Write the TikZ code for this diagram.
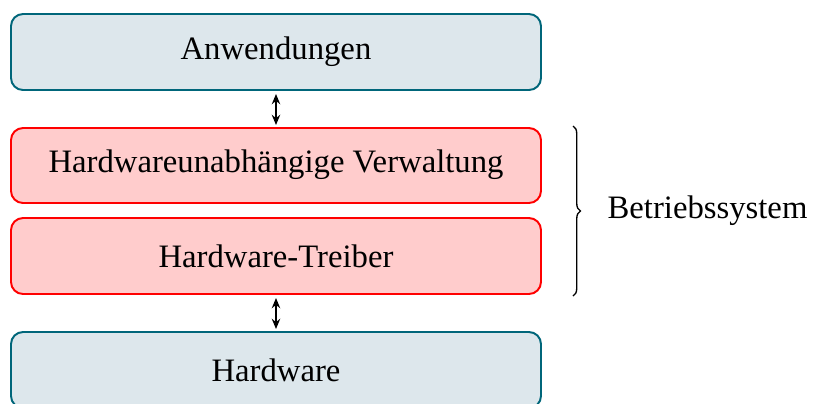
\documentclass[tikz,border=0pt]{standalone}
\usepackage{fontspec}
\setmainfont{Liberation Serif}
\usetikzlibrary{decorations.pathreplacing,arrows.meta}
\definecolor{tealb}{RGB}{0,102,122}
\definecolor{tealf}{RGB}{221,231,236}
\definecolor{redf}{RGB}{255,204,204}
\begin{document}
\begin{tikzpicture}[x=0.3333pt,y=-0.3333pt,
  layer/.style={rounded corners=4pt, line width=0.65pt},
  hw/.style={layer, draw=tealb, fill=tealf},
  os/.style={layer, draw=red, fill=redf},
  lbl/.style={font=\fontsize{10.9}{13}\selectfont},
  dbl/.style={{Stealth[length=3.4pt,width=2.8pt]}-{Stealth[length=3.4pt,width=2.8pt]}, line width=0.6pt}]
\useasboundingbox (0,0) rectangle (821,403);
\draw[hw] (11,14) rectangle (541,90);
\node[lbl] (a) at (276,52) {Anwendungen};
\draw[os] (11,128) rectangle (541,203);
\node[lbl] (v) at (276,165) {Hardwareunabhängige Verwaltung};
\draw[os] (11,218) rectangle (541,294);
\node[lbl] (t) at (276,256) {Hardware-Treiber};
\draw[hw] (11,332) rectangle (541,408);
\node[lbl] (h) at (276,370) {Hardware};
\coordinate (a1) at (276,94);
\coordinate (a2) at (276,125);
\coordinate (b1) at (276,298);
\coordinate (b2) at (276,329);
\draw[dbl] (a1) -- (a2);
\draw[dbl] (b1) -- (b2);
\coordinate (br1) at (573,126);
\coordinate (br2) at (573,296);
\draw[decorate,decoration={brace,amplitude=2.5pt}, line width=0.45pt] (br1) -- (br2);
\node[lbl, anchor=west, inner sep=0pt] (bs) at (607,211) {Betriebssystem};
\end{tikzpicture}
\end{document}
